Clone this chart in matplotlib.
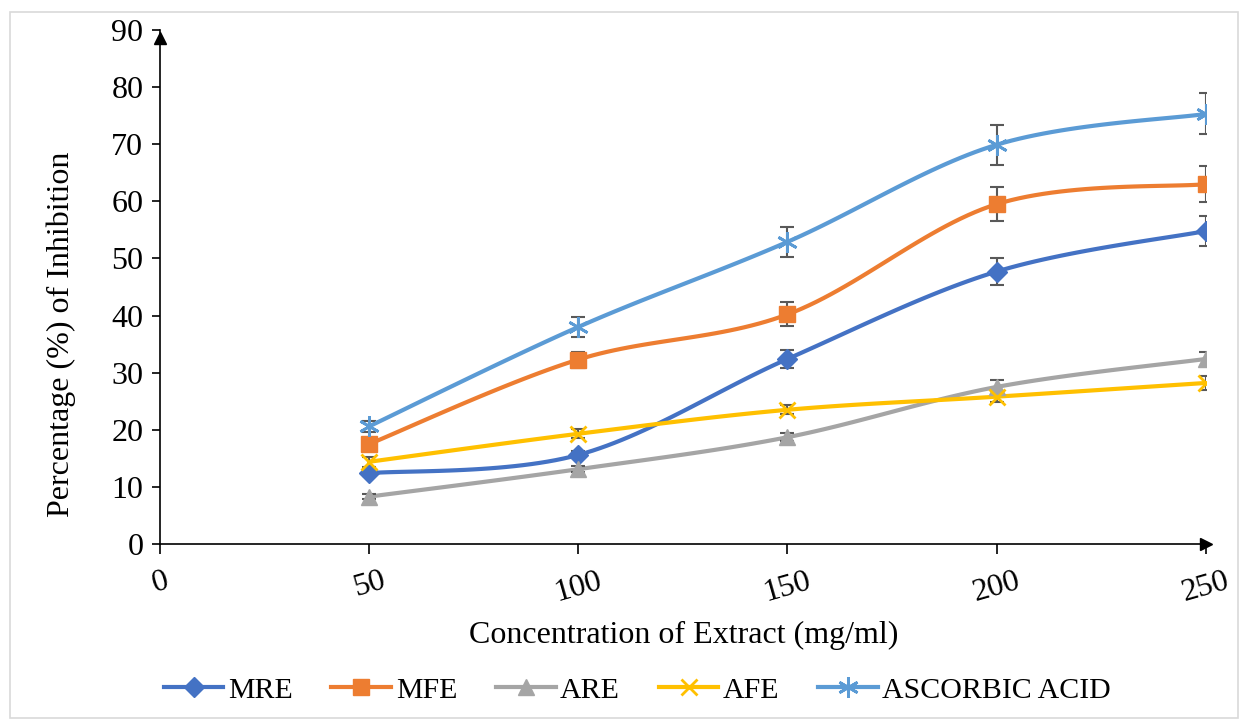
import numpy as np
import matplotlib
matplotlib.use("Agg")
import matplotlib.pyplot as plt
from matplotlib.lines import Line2D

plt.rcParams['font.family'] = ['Liberation Serif', 'DejaVu Serif']

# data
conc = [50, 100, 150, 200, 250]
series_names = ['MRE', 'MFE', 'ARE', 'AFE', 'ASCORBIC ACID']
mre = [12.4, 15.6, 32.4, 47.7, 54.8]
mfe = [17.5, 32.3, 40.2, 59.5, 63.0]
are = [8.3, 13.1, 18.7, 27.5, 32.4]
afe = [14.4, 19.3, 23.5, 25.8, 28.2]
asc = [20.6, 38.0, 52.9, 69.9, 75.3]
mre_err = [0.5, 0.6, 1.6, 2.4, 2.7]
mfe_err = [1.0, 1.4, 2.1, 3.0, 3.1]
are_err = [0.5, 0.5, 0.7, 1.3, 1.3]
afe_err = [0.9, 0.8, 0.8, 1.0, 1.2]
asc_err = [1.0, 1.8, 2.6, 3.5, 3.6]

colors = ['#4472C4', '#ED7D31', '#A5A5A5', '#FFC000', '#5B9BD5']
markers = ['D', 's', '^', 'x', (6, 2, 0)]
msizes = [10, 12, 12, 12, 15]


def smooth(x, y, n=30):
    # excel-like smoothed line (catmull-rom bezier)
    p = np.column_stack([x, y]).astype(float)
    pts = np.vstack([p[0], p, p[-1]])
    out = []
    t = np.linspace(0, 1, n)[:, None]
    for i in range(1, len(pts) - 2):
        p0, p1, p2, p3 = pts[i - 1], pts[i], pts[i + 1], pts[i + 2]
        c1 = p1 + (p2 - p0) / 6
        c2 = p2 - (p3 - p1) / 6
        b = ((1 - t) ** 3) * p1 + 3 * ((1 - t) ** 2) * t * c1 + 3 * (1 - t) * t ** 2 * c2 + t ** 3 * p2
        out.append(b)
    out = np.vstack(out)
    return out[:, 0], out[:, 1]


fig = plt.figure(figsize=(12.45, 7.22), dpi=100)
ax = fig.add_axes([0.1285, 0.2465, 0.840, 0.712])

all_vals = [mre, mfe, are, afe, asc]
all_errs = [mre_err, mfe_err, are_err, afe_err, asc_err]
handles = []
for name, vals, errs, c, m, ms in zip(series_names, all_vals, all_errs, colors, markers, msizes):
    sx, sy = smooth(conc, vals)
    ax.plot(sx, sy, color=c, lw=3, zorder=2, solid_capstyle='round')
    ax.errorbar(conc, vals, yerr=errs, fmt='none', ecolor='#595959', elinewidth=1.5,
                capsize=5, capthick=1.5, zorder=3)
    mew = 2 if m in ('x',) or isinstance(m, tuple) else 1
    ax.plot(conc, vals, linestyle='none', marker=m, color=c, markersize=ms,
            markeredgewidth=mew, zorder=4)
    handles.append(Line2D([0], [0], color=c, lw=3, marker=m, markersize=ms, markeredgewidth=mew))

ax.set_xlim(0, 250)
ax.set_ylim(0, 90)
ax.set_yticks(np.arange(0, 91, 10))
ax.set_xticks([0, 50, 100, 150, 200, 250])
ax.tick_params(axis='y', length=6, width=1.2, direction='out', labelsize=23, pad=6)
ax.tick_params(axis='x', length=7, width=1.2, direction='out', labelsize=23, pad=9, labelrotation=16)
for sp in ['top', 'right']:
    ax.spines[sp].set_visible(False)
ax.spines['left'].set_linewidth(1.2)
ax.spines['bottom'].set_linewidth(1.2)
ax.plot(1, 0, '>k', transform=ax.transAxes, clip_on=False, markersize=9)
ax.plot(0, 0.985, '^k', transform=ax.transAxes, clip_on=False, markersize=9)

ax.set_xlabel('Concentration of Extract (mg/ml)', fontsize=23)
ax.xaxis.set_label_coords(0.501, -0.15)
ax.set_ylabel('Percentage (%) of Inhibition', fontsize=23)
ax.yaxis.set_label_coords(-0.08, 0.407)

fig.legend(handles, series_names, loc='center', bbox_to_anchor=(0.512, 0.044), ncol=5,
           frameon=False, fontsize=21.5, handlelength=2.0, handletextpad=0.15,
           columnspacing=1.3)

fig.patches.append(plt.Rectangle((0.008, 0.005), 0.986, 0.978, transform=fig.transFigure,
                                 fill=False, edgecolor='#D9D9D9', lw=1.2))

fig.savefig('out.png', dpi=100)
